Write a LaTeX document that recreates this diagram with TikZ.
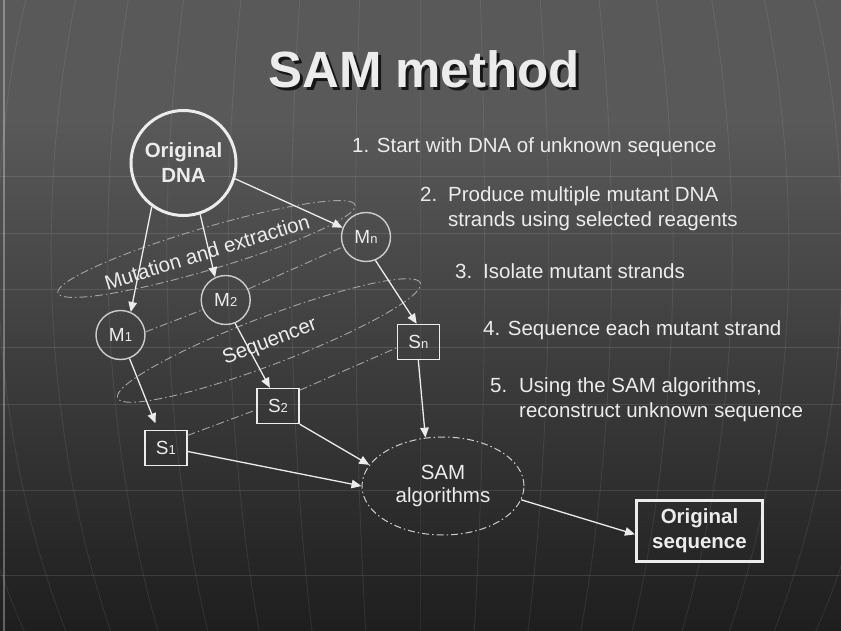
\documentclass[tikz,border=0pt]{standalone}
\usepackage{fontspec}
\setmainfont{Liberation Sans}
\usetikzlibrary{arrows.meta,shapes.geometric}

\definecolor{bgtop}{RGB}{89,89,89}
\definecolor{bgbot}{RGB}{30,30,30}
\definecolor{ink}{RGB}{236,236,236}
\definecolor{rim}{RGB}{205,205,205}
\definecolor{dashc}{RGB}{165,165,165}
\definecolor{shadowc}{RGB}{22,22,22}

% text with a dark drop shadow
\newcommand\shadowed[2][1.3pt]{\leavevmode\rlap{\hspace{#1}\raisebox{-#1}{\textcolor{shadowc}{#2}}}#2}
% small index after M and S
\newcommand\idx[1]{{\fontsize{13}{13}\selectfont #1}}

\tikzset{
  body/.style={text=ink, inner sep=0pt, font=\fontsize{20.5}{24}\selectfont},
  item/.style={body, anchor=base west},
  lbl/.style={body},
  dnanode/.style={circle, draw=ink, line width=3pt, minimum size=105pt, inner sep=0pt,
    align=center, text=ink, font=\bfseries\fontsize{20.5}{25}\selectfont},
  mnode/.style={circle, draw=rim, line width=1.4pt, minimum size=49pt, inner sep=0pt,
    text=ink, font=\fontsize{19}{19}\selectfont},
  snode/.style={rectangle, draw=ink, line width=1.4pt, minimum width=42pt, minimum height=35pt,
    inner sep=0pt, text=ink, font=\fontsize{19}{19}\selectfont},
  samnode/.style={ellipse, draw=rim, line width=1pt, dash pattern=on 7pt off 3pt on 1.5pt off 3pt,
    minimum width=162pt, minimum height=98pt, inner sep=0pt, align=center, text=ink,
    font=\fontsize{20.5}{23.5}\selectfont},
  endbox/.style={rectangle, draw=ink, line width=3pt, minimum width=126pt, minimum height=61pt,
    inner sep=0pt, align=center, text=ink, font=\bfseries\fontsize{20.5}{25}\selectfont},
  flow/.style={draw=ink, line width=1.3pt, -{Triangle[length=10pt,width=8.5pt]}},
  dashdot/.style={draw=dashc, line width=0.9pt, dash pattern=on 8pt off 3pt on 1.5pt off 3pt},
  parallel/.style={draw=white, draw opacity=0.11, line width=0.9pt},
  meridian/.style={draw=white, draw opacity=0.08, line width=0.9pt}
}

\begin{document}
\begin{tikzpicture}[x=1pt,y=-1pt]
\useasboundingbox (0,0) rectangle (841,631);

% backdrop
\fill[bgtop] (0,0) rectangle (841,121);
\shade[top color=bgtop, bottom color=bgbot] (0,120) rectangle (841,631);
\begin{scope}
  \clip (0,0) rectangle (841,631);
  \foreach \yy in {176,233,289,347,404,490,575}
    \draw[parallel] (0,\yy) -- (841,\yy);
  \foreach \k in {-9,...,9}
    \draw[meridian] plot[domain=-35:21, samples=30, smooth]
      ({420+700*sin(5.3*\k)*cos(\x)},{250-700*sin(\x)});
\end{scope}
\draw[draw=white, draw opacity=0.3, line width=1.2pt] (4,0) -- (4,631);

% title
\node[text=ink, inner sep=0pt, anchor=base, font=\bfseries\fontsize{51}{51}\selectfont]
  (title) at (424,88) {\shadowed[3pt]{SAM method}};

% steps
\node[item] (i1) at (352,153) {1. Start with DNA of unknown sequence};
\node[item] (i2) at (420,202) {\makebox[28pt][l]{2.}Produce multiple mutant DNA};
\node[item] (i2b) at (448,227) {strands using selected reagents};
\node[item] (i3) at (455,279) {\makebox[28pt][l]{3.}Isolate mutant strands};
\node[item] (i4) at (483,335) {4. Sequence each mutant strand};
\node[item] (i5) at (490,392) {\makebox[29pt][l]{5.}Using the SAM algorithms,};
\node[item] (i5b) at (519,417) {reconstruct unknown sequence};

% grouping ellipses
\draw[dashdot, shift={(206.5,249)}, rotate=16.5] (0,0) ellipse [x radius=155pt, y radius=21pt];
\draw[dashdot, shift={(269,340.5)}, rotate=20.8] (0,0) ellipse [x radius=162pt, y radius=24pt];

% nodes
\node[dnanode] (dna) at (183.5,163) {Original\\DNA};
\node[mnode] (m1) at (120.5,335) {M\idx{1}};
\node[mnode] (m2) at (225.7,300) {M\idx{2}};
\node[mnode] (mn) at (366,237) {M\idx{n}};
\node[snode] (s1) at (165.8,448) {S\idx{1}};
\node[snode] (s2) at (278,406) {S\idx{2}};
\node[snode] (sn) at (418.3,342) {S\idx{n}};
\node[samnode] (sam) at (443,486) {SAM\\algorithms};
\node[endbox] (os) at (699.5,531) {Original\\sequence};

% group labels
\node[lbl, rotate=17] (mutlbl) at (207,252) {Mutation and extraction};
\node[lbl, rotate=21] (seqlbl) at (270,342) {Sequencer};

% links within each stage
\draw[dashdot] (m1.7) -- (m2.203);
\draw[dashdot] (m2.26) -- (mn.203);
\draw[dashdot] (s1.30) -- (s2.190);
\draw[dashdot] (s2.36) -- (sn.195);

% flow arrows
\draw[flow] (dna.234) -- (m1.66);
\draw[flow] (dna.288) -- (m2.115);
\draw[flow] (dna.343) -- (mn.158);
\draw[flow, shorten >=7pt] (m1.291) -- (s1.113);
\draw[flow] (m2.292) -- (s2.114);
\draw[flow] (mn.292) -- (sn.95);
\draw[flow] (sn.south) -- (sam.110);
\draw[flow] (s2.south east) -- (sam.164);
\draw[flow] (s1.351) -- (sam.west);
\draw[flow] (sam.350) -- (os.183);
\end{tikzpicture}
\end{document}
